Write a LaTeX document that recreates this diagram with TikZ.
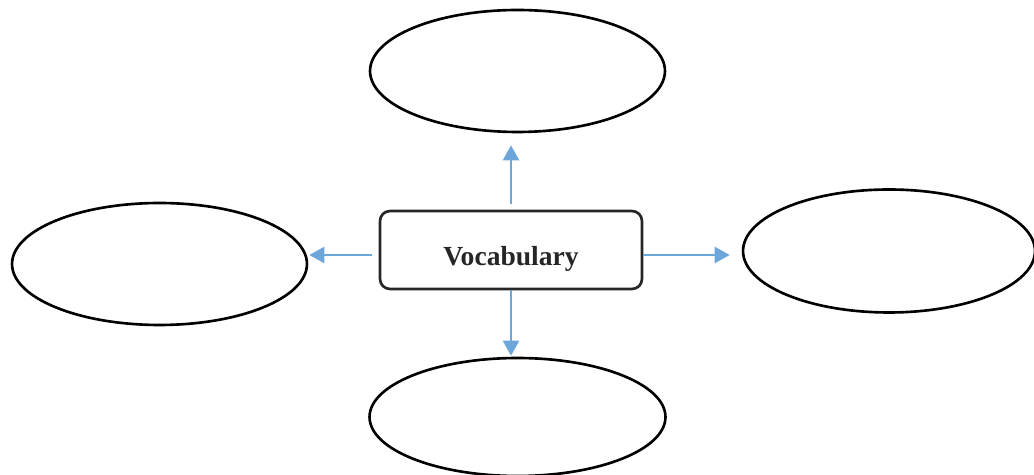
\documentclass[tikz,border=0pt]{standalone}
\usepackage{fontspec}
\setmainfont{Liberation Serif}
\usepackage{tikz}
\usetikzlibrary{arrows.meta,shapes.geometric}
\definecolor{arrblue}{RGB}{108,166,218}
\definecolor{boxgray}{RGB}{38,38,38}

\begin{document}
\begin{tikzpicture}[x=0.02cm, y=-0.02cm,
  bubble/.style={draw, ellipse, line width=1.5pt, inner sep=0pt},
  vocabbox/.style={draw=boxgray, rectangle, rounded corners=0.2cm, line width=1.5pt, minimum width=5.24cm, minimum height=1.56cm},
  arr/.style={->, >={Triangle[length=0.3cm, width=0.32cm]}, draw=arrblue, fill=arrblue, line width=1.3pt}]
\useasboundingbox (0,0) rectangle (1034,475);
\node[bubble, minimum width=5.9cm, minimum height=2.44cm] at (517.5,71) (top) {};
\node[bubble, minimum width=5.9cm, minimum height=2.44cm] at (159.5,264) (left) {};
\node[bubble, minimum width=5.84cm, minimum height=2.46cm] at (889,251) (right) {};
\node[bubble, minimum width=5.92cm, minimum height=2.36cm] at (517.5,417) (bottom) {};
\node[vocabbox, label={[text=boxgray, font=\bfseries\fontsize{15.7}{18}\selectfont, yshift=-0.18cm]center:Vocabulary}] at (511,250) (vocab) {};
\draw[arr, shorten <=0.12cm, shorten >=0.24cm] (vocab.north) -- (vocab.north |- top.south);
\draw[arr, shorten >=0.02cm] (vocab.south) -- (vocab.south |- bottom.north);
\draw[arr, shorten <=0.14cm, shorten >=0.02cm] ([yshift=-0.1cm]vocab.west) -- ([yshift=-0.1cm]vocab.west -| left.east);
\draw[arr, shorten >=0.24cm] ([yshift=-0.1cm]vocab.east) -- ([yshift=-0.1cm]vocab.east -| right.west);
\end{tikzpicture}
\end{document}
